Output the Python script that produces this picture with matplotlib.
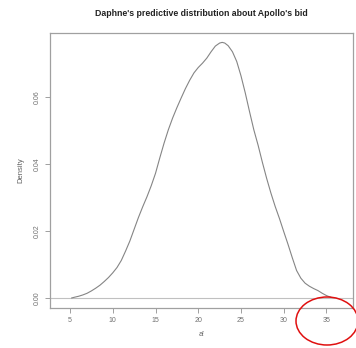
import numpy as np
import matplotlib.pyplot as plt
from matplotlib.patches import Ellipse

# density estimate of Apollo's bid, read at half-unit steps
bid = [5.2, 5.5, 6.0, 6.5, 7.0, 7.5, 8.0, 8.5, 9.0, 9.5, 10.0, 10.5, 11.0,
       11.5, 12.0, 12.5, 13.0, 13.5, 14.0, 14.5, 15.0, 15.5, 16.0, 16.5,
       17.0, 17.5, 18.0, 18.5, 19.0, 19.5, 20.0, 20.5, 21.0, 21.5, 22.0,
       22.5, 22.8, 23.1, 23.5, 24.0, 24.5, 25.0, 25.5, 26.0, 26.5, 27.0,
       27.5, 28.0, 28.5, 29.0, 29.5, 30.0, 30.5, 31.0, 31.5, 32.0, 32.5,
       33.0, 33.5, 34.0, 34.5, 35.0, 35.5]
density = [0.0000, 0.0002, 0.0005, 0.0009, 0.0014, 0.0021, 0.0029, 0.0038,
           0.0049, 0.0061, 0.0075, 0.0091, 0.0112, 0.0140, 0.0170, 0.0205,
           0.0240, 0.0272, 0.0302, 0.0335, 0.0372, 0.0418, 0.0462, 0.0502,
           0.0537, 0.0568, 0.0597, 0.0625, 0.0650, 0.0672, 0.0688, 0.0701,
           0.0716, 0.0735, 0.0752, 0.0761, 0.0763, 0.0761, 0.0753, 0.0735,
           0.0706, 0.0663, 0.0612, 0.0556, 0.0502, 0.0456, 0.0405, 0.0357,
           0.0313, 0.0273, 0.0237, 0.0198, 0.0160, 0.0120, 0.0082, 0.0059,
           0.0044, 0.0035, 0.0028, 0.0022, 0.0014, 0.0007, 0.0002]

xticks = [5, 10, 15, 20, 25, 30, 35]
yticks = [0.00, 0.02, 0.04, 0.06]

plt.rcParams['font.family'] = ['Liberation Sans', 'DejaVu Sans']

fig = plt.figure(figsize=(3.56, 3.48), dpi=100)
ax = fig.add_axes([50 / 356, 40 / 348, 303 / 356, 275 / 348])

ax.axhline(0, color='#c0c0c0', lw=0.8)
ax.plot(bid, density, color='#858585', lw=0.8)

ax.set_xlim(2.66, 38.1)
ax.set_ylim(-0.003, 0.0791)
ax.set_xticks(xticks)
ax.set_xticklabels([str(t) for t in xticks])
ax.set_yticks(yticks)
ax.set_yticklabels(['%.2f' % t for t in yticks], rotation=90, va='center')

for s in ax.spines.values():
    s.set_color('#a0a0a0')
    s.set_linewidth(0.9)

ax.tick_params(length=3.6, width=0.7, color='#a0a0a0', labelsize=5,
               labelcolor='#707070', pad=3)

ax.set_xlabel('a\u02b3', fontsize=5.5, color='#606060', labelpad=5)
ax.set_ylabel('Density', fontsize=5.5, color='#606060', labelpad=7)
fig.text(201 / 356, 1 - 14 / 348,
         "Daphne's predictive distribution about Apollo's bid",
         ha='center', va='center', fontsize=6.3, fontweight='bold',
         color='#222222')

# red ring marking the 35 tick
fig.add_artist(Ellipse((327 / 356, 1 - 321 / 348), 62 / 356, 48 / 348,
                       transform=fig.transFigure, fill=False,
                       edgecolor='#e01010', lw=1.1))

fig.savefig('out.png', dpi=100)
